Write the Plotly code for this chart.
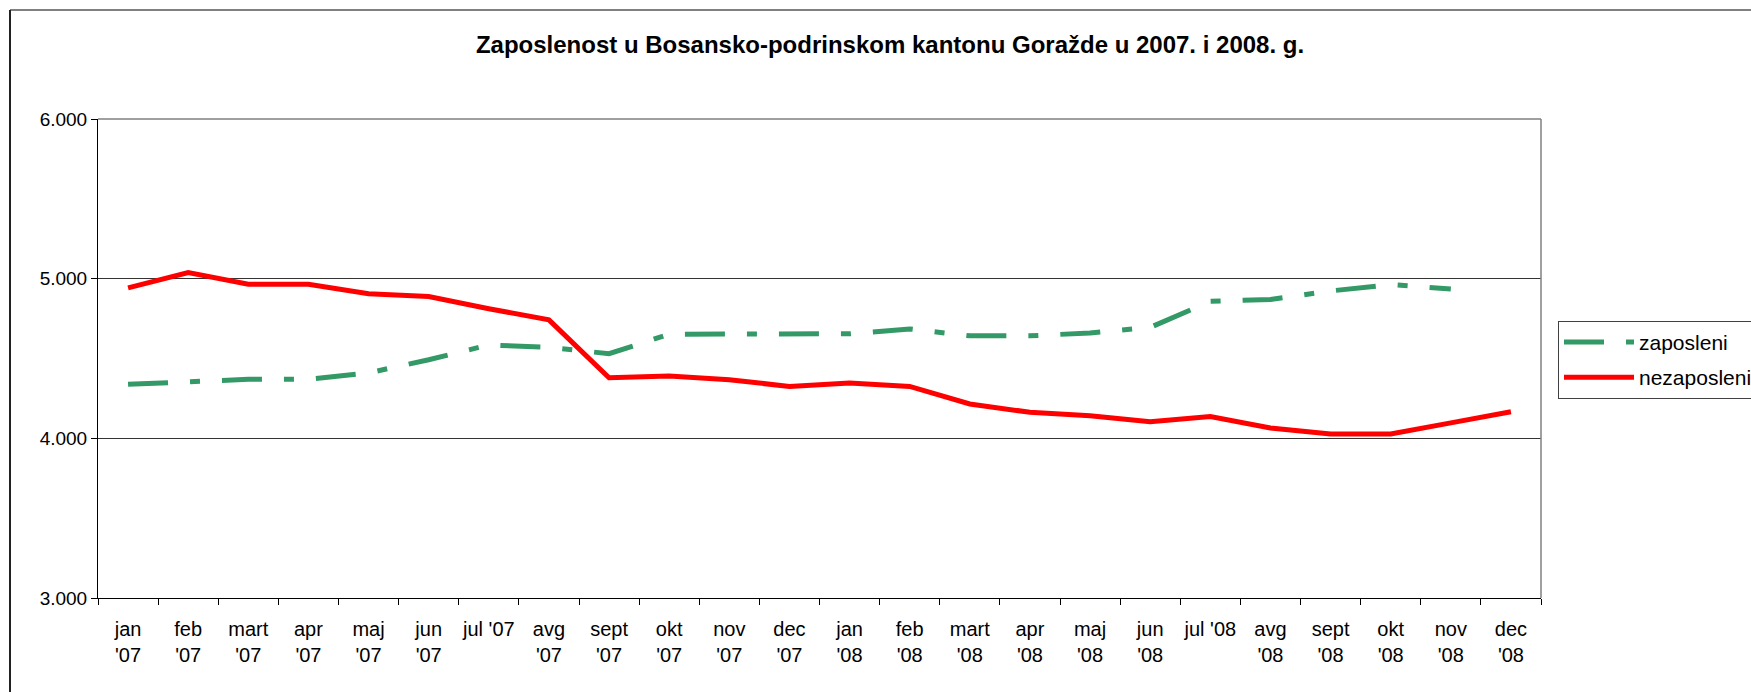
import plotly.graph_objects as go

categories = ["jan<br>'07", "feb<br>'07", "mart<br>'07", "apr<br>'07", "maj<br>'07", "jun<br>'07",
              "jul '07", "avg<br>'07", "sept<br>'07", "okt<br>'07", "nov<br>'07", "dec<br>'07",
              "jan<br>'08", "feb<br>'08", "mart<br>'08", "apr<br>'08", "maj<br>'08", "jun<br>'08",
              "jul '08", "avg<br>'08", "sept<br>'08", "okt<br>'08", "nov<br>'08", "dec<br>'08"]

zaposleni = [4338, 4355, 4370, 4370, 4410, 4492, 4585, 4570, 4530, 4652, 4652, 4652,
             4655, 4685, 4642, 4642, 4660, 4695, 4858, 4870, 4923, 4963, 4935, None]

nezaposleni = [4942, 5038, 4965, 4965, 4906, 4888, 4812, 4742, 4379, 4390, 4367, 4325,
               4346, 4325, 4215, 4163, 4142, 4104, 4137, 4065, 4027, 4027, 4097, 4167]

y_ticks = [3000, 4000, 5000, 6000]

FONT = "Liberation Sans, Arial, sans-serif"
W, H = 1751, 692
L, R, T, B = 98, 1541, 119, 598.5

fig = go.Figure()
fig.add_trace(go.Scatter(x=categories, y=zaposleni, name="zaposleni", mode="lines",
                         legendgroup="a",
                         line=dict(color="#339966", width=5, dash="40px,22px,10px,22px"),
                         connectgaps=False))
fig.add_trace(go.Scatter(x=categories, y=nezaposleni, name="nezaposleni", mode="lines",
                         legendgroup="b",
                         line=dict(color="#FF0000", width=5)))

pw = R - L
ph = B - T

fig.update_layout(
    width=W, height=H,
    margin=dict(l=L, r=W - R, t=T, b=H - B, pad=0, autoexpand=False),
    paper_bgcolor="white", plot_bgcolor="white",
    separators=",.",
    font=dict(family=FONT, size=19, color="black"),
    title=dict(text="<b>Zaposlenost u Bosansko-podrinskom kantonu Goražde u 2007. i 2008. g.</b>",
               font=dict(family=FONT, size=24, color="black"),
               xref="paper", x=(890 - L) / pw, xanchor="center",
               yref="container", y=1 - 45 / H, yanchor="middle"),
    xaxis=dict(type="category", range=[-0.5, len(categories) - 0.5],
               tickson="boundaries", ticks="outside", ticklen=6, tickangle=0,
               tickcolor="black", tickwidth=1, showline=True, linecolor="black", linewidth=1,
               showgrid=False, tickfont=dict(family=FONT, size=20, color="black"),
               ticklabelstandoff=13),
    yaxis=dict(range=[3000, 6000], tickvals=y_ticks, tickformat=",d", ticks="outside",
               ticklen=6, tickcolor="black", showline=True, linecolor="black", linewidth=1,
               showgrid=True, gridcolor="#333333", gridwidth=1, zeroline=False,
               tickfont=dict(family=FONT, size=19, color="black")),
    legend=dict(x=(1558 - L) / pw, xanchor="left", y=(B - 321) / ph, yanchor="top",
                bordercolor="#404040", borderwidth=1, bgcolor="white",
                font=dict(family=FONT, size=21, color="black"), itemwidth=70,
                tracegroupgap=5),
    showlegend=True,
)

# plot area border top/right (gray)
fig.add_shape(type="line", xref="paper", yref="paper", x0=0, x1=1, y0=1, y1=1,
              line=dict(color="#808080", width=1.5), layer="above")
fig.add_shape(type="line", xref="paper", yref="paper", x0=1, x1=1, y0=0, y1=1,
              line=dict(color="#808080", width=1.5), layer="above")
# outer chart area border
fig.add_shape(type="line", xref="paper", yref="paper",
              x0=(10 - L) / pw, x1=(1800 - L) / pw, y0=(B - 10) / ph, y1=(B - 10) / ph,
              line=dict(color="#808080", width=2), layer="above")
fig.add_shape(type="line", xref="paper", yref="paper",
              x0=(10 - L) / pw, x1=(10 - L) / pw, y0=(B - 10) / ph, y1=(B - 720) / ph,
              line=dict(color="#222222", width=2), layer="above")

fig.write_html("out.html", config={"displayModeBar": False},
               post_script="document.body.style.margin='0';document.body.style.overflow='hidden';")
